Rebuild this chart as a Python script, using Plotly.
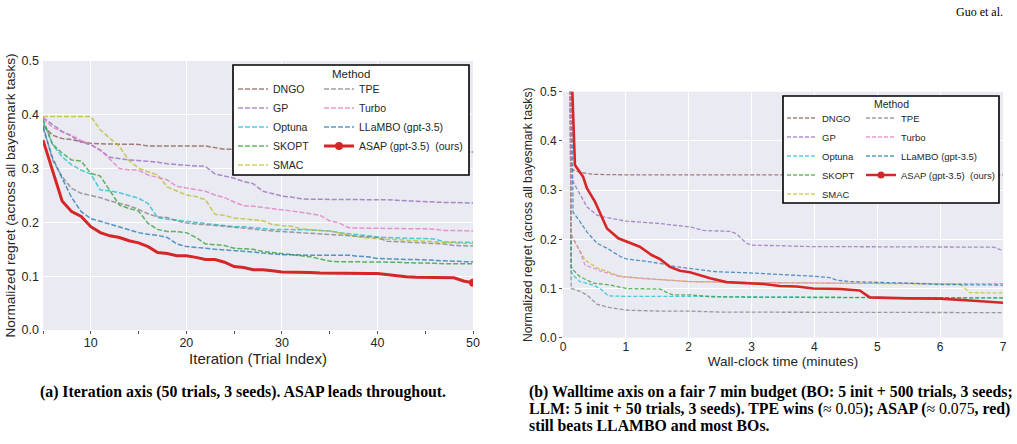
import plotly.graph_objects as go

W, H = 1017, 444
FONT = "Liberation Sans, Arial, sans-serif"
SERIF = "Liberation Serif, Times New Roman, serif"
TXT = "#262626"


def fx(p):
    return p / W


def fy(p):
    return 1 - p / H


# ---------------- data: (a) iteration axis ----------------
ITER = list(range(5, 51))

DNGO_IT = [0.380, 0.362, 0.356, 0.354, 0.350, 0.347, 0.346, 0.346, 0.346, 0.346,
           0.345, 0.342, 0.342, 0.342, 0.342, 0.342, 0.342, 0.342, 0.339, 0.336,
           0.336, 0.335, 0.335, 0.335, 0.335, 0.335, 0.335, 0.334, 0.334, 0.334,
           0.333, 0.333, 0.332, 0.332, 0.332, 0.332, 0.332, 0.331, 0.331, 0.331,
           0.331, 0.331, 0.331, 0.331, 0.331, 0.331]
GP_IT = [0.395, 0.382, 0.369, 0.360, 0.349, 0.344, 0.334, 0.321, 0.318, 0.316,
         0.315, 0.314, 0.312, 0.309, 0.307, 0.306, 0.305, 0.304, 0.290, 0.286,
         0.282, 0.276, 0.272, 0.258, 0.253, 0.249, 0.247, 0.244, 0.243, 0.243,
         0.243, 0.243, 0.243, 0.243, 0.243, 0.243, 0.242, 0.241, 0.240, 0.239,
         0.238, 0.237, 0.237, 0.237, 0.237, 0.236]
OPTUNA_IT = [0.388, 0.345, 0.322, 0.307, 0.297, 0.290, 0.260, 0.259, 0.255, 0.250,
             0.245, 0.235, 0.209, 0.206, 0.204, 0.203, 0.200, 0.198, 0.196, 0.194,
             0.192, 0.192, 0.190, 0.189, 0.187, 0.187, 0.187, 0.186, 0.186, 0.185,
             0.184, 0.181, 0.179, 0.176, 0.174, 0.173, 0.172, 0.171, 0.171, 0.170,
             0.170, 0.169, 0.164, 0.163, 0.163, 0.163]
SKOPT_IT = [0.392, 0.345, 0.329, 0.316, 0.314, 0.291, 0.286, 0.260, 0.232, 0.226,
            0.221, 0.198, 0.187, 0.183, 0.183, 0.181, 0.172, 0.160, 0.158, 0.157,
            0.152, 0.151, 0.150, 0.146, 0.144, 0.141, 0.140, 0.138, 0.136, 0.132,
            0.128, 0.127, 0.127, 0.127, 0.127, 0.127, 0.126, 0.126, 0.125, 0.125,
            0.124, 0.124, 0.123, 0.123, 0.123, 0.123]
SMAC_IT = [0.397, 0.397, 0.397, 0.397, 0.397, 0.397, 0.372, 0.356, 0.341, 0.315,
           0.301, 0.294, 0.288, 0.266, 0.259, 0.251, 0.248, 0.242, 0.215, 0.213,
           0.208, 0.207, 0.205, 0.203, 0.196, 0.194, 0.193, 0.188, 0.186, 0.185,
           0.184, 0.180, 0.177, 0.173, 0.171, 0.170, 0.168, 0.167, 0.166, 0.165,
           0.164, 0.163, 0.162, 0.162, 0.161, 0.161]
TPE_IT = [0.380, 0.316, 0.285, 0.263, 0.254, 0.250, 0.246, 0.240, 0.236, 0.231,
          0.224, 0.216, 0.210, 0.209, 0.203, 0.199, 0.197, 0.196, 0.195, 0.193,
          0.191, 0.189, 0.187, 0.185, 0.184, 0.183, 0.182, 0.181, 0.180, 0.178,
          0.177, 0.176, 0.175, 0.174, 0.173, 0.172, 0.165, 0.164, 0.163, 0.162,
          0.162, 0.161, 0.160, 0.157, 0.156, 0.156]
TURBO_IT = [0.393, 0.377, 0.368, 0.362, 0.352, 0.345, 0.335, 0.318, 0.300, 0.298,
            0.297, 0.288, 0.283, 0.279, 0.267, 0.264, 0.262, 0.258, 0.251, 0.246,
            0.238, 0.231, 0.230, 0.228, 0.226, 0.224, 0.222, 0.219, 0.216, 0.213,
            0.203, 0.199, 0.190, 0.189, 0.189, 0.189, 0.189, 0.189, 0.189, 0.189,
            0.188, 0.187, 0.185, 0.185, 0.185, 0.184]
LLAMBO_IT = [0.376, 0.320, 0.282, 0.246, 0.220, 0.207, 0.202, 0.197, 0.192, 0.186,
             0.181, 0.178, 0.176, 0.172, 0.160, 0.155, 0.154, 0.152, 0.150, 0.149,
             0.148, 0.147, 0.145, 0.143, 0.141, 0.140, 0.140, 0.139, 0.139, 0.139,
             0.139, 0.139, 0.139, 0.137, 0.136, 0.133, 0.132, 0.132, 0.131, 0.131,
             0.130, 0.129, 0.128, 0.128, 0.127, 0.127]
ASAP_IT = [0.353, 0.297, 0.240, 0.220, 0.211, 0.192, 0.181, 0.175, 0.172, 0.166,
           0.162, 0.155, 0.144, 0.142, 0.138, 0.138, 0.135, 0.131, 0.131, 0.126,
           0.118, 0.116, 0.112, 0.112, 0.110, 0.108, 0.107, 0.107, 0.107, 0.106,
           0.105, 0.105, 0.105, 0.105, 0.105, 0.105, 0.102, 0.101, 0.099, 0.098,
           0.098, 0.097, 0.097, 0.097, 0.091, 0.088]

# ---------------- data: (b) wall-clock axis (minutes) ----------------
DNGO_T = [0.11, 0.13, 0.16, 0.27, 0.48, 1.0, 2.0, 3.0, 4.0, 5.0, 6.0, 7.0]
DNGO_W = [0.60, 0.345, 0.341, 0.336, 0.332, 0.331, 0.331, 0.331, 0.331, 0.331, 0.331, 0.331]
GP_T = [0.11, 0.13, 0.16, 0.27, 0.38, 0.54, 0.70, 1.01, 1.54, 2.02, 2.23, 2.66, 2.76,
        2.92, 3.0, 3.45, 3.98, 4.5, 5.5, 6.5, 6.85, 7.0]
GP_W = [0.60, 0.330, 0.317, 0.290, 0.266, 0.249, 0.244, 0.237, 0.232, 0.225, 0.218, 0.216,
        0.211, 0.192, 0.188, 0.187, 0.185, 0.185, 0.185, 0.185, 0.184, 0.177]
OPTUNA_T = [0.11, 0.13, 0.16, 0.27, 0.48, 0.59, 0.72, 1.0, 2.02, 3.0, 4.0, 5.0, 6.0, 7.0]
OPTUNA_W = [0.60, 0.135, 0.127, 0.114, 0.107, 0.100, 0.085, 0.084, 0.084, 0.083, 0.082,
            0.081, 0.081, 0.081]
SKOPT_T = [0.11, 0.13, 0.16, 0.27, 0.48, 0.75, 1.01, 1.54, 1.65, 1.75, 2.02, 2.39, 3.0,
           4.0, 5.0, 6.0, 7.0]
SKOPT_W = [0.60, 0.145, 0.138, 0.124, 0.111, 0.107, 0.100, 0.099, 0.092, 0.087, 0.087,
           0.083, 0.082, 0.082, 0.081, 0.081, 0.081]
SMAC_T = [0.11, 0.13, 0.16, 0.27, 0.35, 0.54, 0.91, 1.28, 2.02, 3.0, 4.0, 5.0, 6.0, 6.32,
          6.47, 7.0]
SMAC_W = [0.60, 0.210, 0.202, 0.178, 0.158, 0.142, 0.125, 0.120, 0.114, 0.112, 0.111,
          0.110, 0.109, 0.109, 0.0915, 0.091]
TPE_T = [0.11, 0.13, 0.16, 0.27, 0.38, 0.54, 0.75, 1.01, 1.54, 2.02, 2.5, 3.0, 4.0, 5.0,
         6.0, 7.0]
TPE_W = [0.60, 0.100, 0.099, 0.094, 0.087, 0.068, 0.061, 0.056, 0.054, 0.054, 0.052,
         0.052, 0.051, 0.051, 0.051, 0.051]
TURBO_T = [0.11, 0.13, 0.16, 0.27, 0.35, 0.59, 0.91, 1.28, 2.02, 3.0, 4.0, 5.0, 6.0, 7.0]
TURBO_W = [0.60, 0.210, 0.202, 0.175, 0.148, 0.136, 0.124, 0.121, 0.114, 0.112, 0.111,
           0.111, 0.110, 0.110]
LLAMBO_T = [0.13, 0.16, 0.27, 0.38, 0.54, 0.70, 0.91, 1.01, 1.28, 1.54, 1.81, 2.02, 2.18,
            2.45, 2.92, 3.45, 3.72, 3.98, 4.25, 4.35, 4.57, 4.94, 5.47, 6.0, 7.0]
LLAMBO_W = [0.60, 0.255, 0.236, 0.215, 0.192, 0.182, 0.165, 0.160, 0.156, 0.151, 0.144,
            0.141, 0.139, 0.134, 0.132, 0.129, 0.127, 0.125, 0.122, 0.117, 0.114, 0.113,
            0.111, 0.108, 0.107]
ASAP_T = [0.14, 0.19, 0.32, 0.38, 0.51, 0.59, 0.70, 0.88, 1.01, 1.22, 1.41, 1.54, 1.70,
          1.86, 2.02, 2.34, 2.60, 2.92, 3.19, 3.45, 3.72, 3.98, 4.41, 4.72, 4.88, 5.47,
          6.0, 6.53, 7.0]
ASAP_W = [0.53, 0.351, 0.327, 0.304, 0.276, 0.253, 0.222, 0.202, 0.195, 0.185, 0.168,
          0.160, 0.144, 0.136, 0.133, 0.121, 0.113, 0.111, 0.109, 0.105, 0.104, 0.100,
          0.099, 0.096, 0.082, 0.080, 0.0795, 0.075, 0.071]

NAMES = ["DNGO", "GP", "Optuna", "SKOPT", "SMAC", "TPE", "Turbo",
         "LLaMBO (gpt-3.5)", "ASAP (gpt-3.5)\u00a0 (ours)"]
COLORS = ["#8c564b", "#9467bd", "#17becf", "#2ca02c", "#bcbd22", "#7f7f7f",
          "#e377c2", "#1f77b4", "#d62728"]
ITER_SERIES = [DNGO_IT, GP_IT, OPTUNA_IT, SKOPT_IT, SMAC_IT, TPE_IT, TURBO_IT,
               LLAMBO_IT, ASAP_IT]
TIME_SERIES = [(DNGO_T, DNGO_W), (GP_T, GP_W), (OPTUNA_T, OPTUNA_W), (SKOPT_T, SKOPT_W),
               (SMAC_T, SMAC_W), (TPE_T, TPE_W), (TURBO_T, TURBO_W),
               (LLAMBO_T, LLAMBO_W), (ASAP_T, ASAP_W)]

CLEAR = "rgba(0,0,0,0)"

fig = go.Figure()

# ---- panel (a)
for i, (name, col, ys) in enumerate(zip(NAMES, COLORS, ITER_SERIES)):
    leg = "legend" if i < 5 else "legend2"
    if i < 8:
        fig.add_trace(go.Scatter(
            x=ITER, y=ys, name=name, mode="lines", legend=leg,
            line=dict(color=col, width=1.5, dash="5px,2px"), opacity=0.75,
            xaxis="x", yaxis="y"))
    else:
        # drawn from the last trial backwards so the end-point dot is the first marker
        xr, yr = ITER[::-1], ys[::-1]
        fig.add_trace(go.Scatter(
            x=xr, y=yr, name=name, mode="lines+markers", legend=leg,
            line=dict(color=col, width=3),
            marker=dict(size=8, color=[col] + [CLEAR] * (len(xr) - 1)),
            xaxis="x", yaxis="y"))

# ---- panel (b)
for i, (name, col, (xs, ys)) in enumerate(zip(NAMES, COLORS, TIME_SERIES)):
    leg = "legend3" if i < 5 else "legend4"
    if i < 8:
        fig.add_trace(go.Scatter(
            x=xs, y=ys, name=name, mode="lines", legend=leg,
            line=dict(color=col, width=1.3, dash="4px,2px"), opacity=0.75,
            xaxis="x2", yaxis="y2"))
    else:
        fig.add_trace(go.Scatter(
            x=xs, y=ys, name=name, mode="lines+markers", legend=leg,
            line=dict(color=col, width=2.6),
            marker=dict(size=7, color=[col] + [CLEAR] * (len(xs) - 1)),
            xaxis="x2", yaxis="y2"))

axis_common = dict(showgrid=True, gridcolor="white", gridwidth=1, zeroline=False,
                   showline=False, color=TXT, automargin=False)

leg_common = dict(xanchor="left", yanchor="top", bgcolor=CLEAR, borderwidth=0,
                  tracegroupgap=0, orientation="v")

fig.update_layout(
    width=W, height=H,
    margin=dict(l=0, r=0, t=0, b=0, autoexpand=False),
    paper_bgcolor="white",
    plot_bgcolor="#EAEAF2",
    font=dict(family=FONT, color=TXT),
    xaxis=dict(**axis_common, domain=[fx(43), fx(473)], range=[5, 50],
               tickvals=[10, 20, 30, 40, 50], anchor="y", ticks="",
               tickfont=dict(size=12.5), ticklabelstandoff=3,
               minor=dict(dtick=5, tick0=0, ticks="outside", ticklen=3,
                          tickcolor="#555", showgrid=False),
               title=dict(text="Iteration (Trial Index)", font=dict(size=15), standoff=3)),
    yaxis=dict(**axis_common, domain=[fy(330), fy(61)], range=[0, 0.5], dtick=0.1,
               tickformat=".1f", anchor="x", tickfont=dict(size=12.5), ticks="",
               ticklabelstandoff=3,
               title=dict(text="Normalized regret (across all bayesmark tasks)",
                          font=dict(size=13.6), standoff=2)),
    xaxis2=dict(**axis_common, domain=[fx(563), fx(1003)], range=[0, 7], dtick=1,
                anchor="y2", tickfont=dict(size=12), ticks="",
                title=dict(text="Wall-clock time (minutes)", font=dict(size=13.5),
                           standoff=2)),
    yaxis2=dict(**axis_common, domain=[fy(337.7), fy(91.7)], range=[0, 0.5], dtick=0.1,
                tickformat=".1f", anchor="x2", tickfont=dict(size=12),
                ticks="outside", ticklen=3, tickcolor="#555",
                title=dict(text="Normalized regret (across all bayesmark tasks)",
                           font=dict(size=12.2), standoff=4)),
    legend=dict(**leg_common, x=fx(233), y=fy(74.5), font=dict(size=10.5, family=FONT, color=TXT)),
    legend2=dict(**leg_common, x=fx(319), y=fy(74.5), font=dict(size=10.5, family=FONT, color=TXT)),
    legend3=dict(**leg_common, x=fx(782), y=fy(103.5), font=dict(size=9.5, family=FONT, color=TXT)),
    legend4=dict(**leg_common, x=fx(861), y=fy(103.5), font=dict(size=9.5, family=FONT, color=TXT)),
)

# legend frames
fig.add_shape(type="rect", xref="paper", yref="paper", x0=fx(233), x1=fx(469),
              y0=fy(175), y1=fy(65), fillcolor="white", line=dict(color="black", width=1.6),
              layer="above")
fig.add_shape(type="rect", xref="paper", yref="paper", x0=fx(783), x1=fx(999),
              y0=fy(203), y1=fy(96), fillcolor="white", line=dict(color="black", width=1.6),
              layer="above")

fig.add_annotation(text="Method", xref="paper", yref="paper", x=fx(351), y=fy(74),
                   xanchor="center", yanchor="middle", showarrow=False,
                   font=dict(size=11.5, family=FONT, color=TXT))
fig.add_annotation(text="Method", xref="paper", yref="paper", x=fx(891), y=fy(104),
                   xanchor="center", yanchor="middle", showarrow=False,
                   font=dict(size=10.5, family=FONT, color=TXT))

# captions
CAP_FONT = dict(size=15.8, family=SERIF, color="black")
fig.add_annotation(
    text="<b>(a) Iteration axis (50 trials, 3 seeds). ASAP leads throughout.</b>",
    xref="paper", yref="paper", x=fx(38), y=fy(392), xanchor="left", yanchor="middle",
    showarrow=False, font=CAP_FONT)
CAP_B = ["<b>(b) Walltime axis on a fair 7 min budget (BO: 5 init + 500 trials, 3 seeds;</b>",
         "<b>LLM: 5 init + 50 trials, 3 seeds). TPE wins (</b>\u2248 0.05<b>); ASAP (</b>"
         "\u2248 0.075<b>, red)</b>",
         "<b>still beats LLAMBO and most BOs.</b>"]
CAP_B_Y = [392, 408.5, 425]
for line, yy in zip(CAP_B, CAP_B_Y):
    fig.add_annotation(text=line, xref="paper", yref="paper", x=fx(527), y=fy(yy),
                       xanchor="left", yanchor="middle", align="left", showarrow=False,
                       font=CAP_FONT)
fig.add_annotation(text="Guo et al.", xref="paper", yref="paper", x=fx(1005), y=fy(12),
                   xanchor="right", yanchor="middle", showarrow=False,
                   font=dict(size=12, family=SERIF, color="black"))

fig.write_html("out.html")
